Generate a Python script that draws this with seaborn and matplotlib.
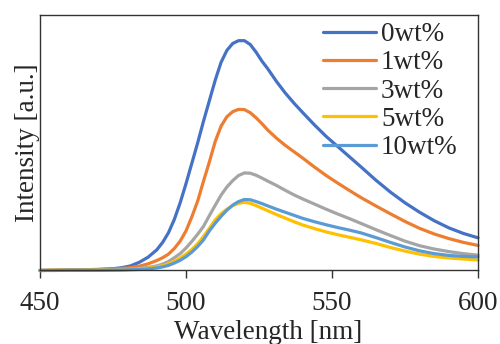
import numpy as np
import pandas as pd
import matplotlib
matplotlib.use("Agg")
import matplotlib.pyplot as plt
import seaborn as sns

wavelength = [450, 455, 460, 465, 470, 475, 478, 481, 484, 487,
              490, 492, 494, 496, 498, 500, 502, 504, 506, 508,
              510, 512, 514, 516, 518, 520, 522, 524, 526, 528,
              531, 534, 537, 540, 544, 548, 552, 556, 560,
              565, 570, 575, 580, 585, 590, 595, 600]

wt0 = [0, 0.001, 0.002, 0.003, 0.004, 0.007, 0.011, 0.018, 0.032, 0.052,
       0.081, 0.11, 0.148, 0.2, 0.265, 0.34, 0.42, 0.5, 0.585, 0.665,
       0.745, 0.815, 0.862, 0.889, 0.9, 0.9, 0.885, 0.855, 0.82, 0.79,
       0.74, 0.695, 0.655, 0.618, 0.57, 0.525, 0.485, 0.445, 0.405,
       0.354, 0.307, 0.265, 0.228, 0.195, 0.167, 0.145, 0.128]
wt1 = [0, 0.001, 0.002, 0.003, 0.004, 0.006, 0.008, 0.011, 0.017, 0.026,
       0.039, 0.05, 0.064, 0.086, 0.115, 0.155, 0.21, 0.272, 0.35, 0.425,
       0.505, 0.565, 0.602, 0.622, 0.631, 0.63, 0.618, 0.598, 0.575, 0.55,
       0.518, 0.49, 0.465, 0.44, 0.405, 0.372, 0.342, 0.313, 0.285,
       0.253, 0.222, 0.192, 0.165, 0.143, 0.125, 0.11, 0.098]
wt3 = [0, 0.001, 0.001, 0.002, 0.002, 0.003, 0.004, 0.006, 0.008, 0.012,
       0.018, 0.025, 0.035, 0.05, 0.066, 0.088, 0.114, 0.142, 0.173, 0.215,
       0.255, 0.295, 0.327, 0.352, 0.372, 0.382, 0.381, 0.373, 0.362, 0.35,
       0.333, 0.314, 0.296, 0.28, 0.26, 0.24, 0.221, 0.203, 0.184,
       0.16, 0.137, 0.115, 0.097, 0.084, 0.074, 0.066, 0.06]
wt5 = [0, 0.001, 0.001, 0.001, 0.002, 0.002, 0.003, 0.004, 0.006, 0.009,
       0.014, 0.019, 0.026, 0.036, 0.049, 0.064, 0.082, 0.105, 0.133, 0.165,
       0.198, 0.222, 0.24, 0.254, 0.263, 0.267, 0.263, 0.254, 0.244, 0.234,
       0.219, 0.205, 0.191, 0.178, 0.164, 0.151, 0.14, 0.13, 0.12,
       0.106, 0.09, 0.076, 0.064, 0.055, 0.049, 0.045, 0.041]
wt10 = [0, 0, 0.001, 0.001, 0.001, 0.002, 0.002, 0.003, 0.004, 0.006,
        0.01, 0.014, 0.02, 0.029, 0.04, 0.054, 0.072, 0.094, 0.12, 0.155,
        0.185, 0.212, 0.236, 0.256, 0.27, 0.278, 0.277, 0.27, 0.262, 0.253,
        0.24, 0.228, 0.216, 0.204, 0.191, 0.179, 0.168, 0.158, 0.147,
        0.129, 0.11, 0.092, 0.077, 0.066, 0.059, 0.055, 0.053]

labels = ["0wt%", "1wt%", "3wt%", "5wt%", "10wt%"]
colors = ["#4472C4", "#ED7D31", "#A5A5A5", "#FFC000", "#5B9BD5"]

df = pd.concat([pd.DataFrame({"Wavelength": wavelength, "Intensity": vals, "sample": lab})
                for lab, vals in zip(labels, [wt0, wt1, wt3, wt5, wt10])])

sns.set_theme(style="white")
plt.rcParams["font.family"] = ["Liberation Serif", "DejaVu Serif"]

fig = plt.figure(figsize=(5, 3.44), dpi=100)
ax = fig.add_axes([0.08, 0.2137, 0.876, 0.7423])

sns.lineplot(data=df, x="Wavelength", y="Intensity", hue="sample", hue_order=labels,
             palette=colors, linewidth=2.3, ax=ax, sort=False, clip_on=False)

ax.set_xlim(450, 600)
ax.set_ylim(0, 1)
ax.set_xticks([450, 500, 550, 600])
ax.set_yticks([])
ax.tick_params(axis="x", direction="out", length=6, width=1, color="#333333",
               labelsize=19.5, pad=9, bottom=True)
for s in ax.spines.values():
    s.set_color("#333333")
    s.set_linewidth(1)

ax.set_xlabel("Wavelength [nm]", fontsize=19.5, labelpad=3)
ax.xaxis.label.set_x(0.52)
ax.set_ylabel("Intensity [a.u.]", fontsize=19.5, labelpad=0)

ax.legend(loc="upper right", frameon=False, fontsize=19.5, handlelength=1.95,
          handletextpad=0.18, labelspacing=0.12, borderaxespad=0,
          bbox_to_anchor=(0.978, 1.015))

fig.savefig("out.png", dpi=100)
